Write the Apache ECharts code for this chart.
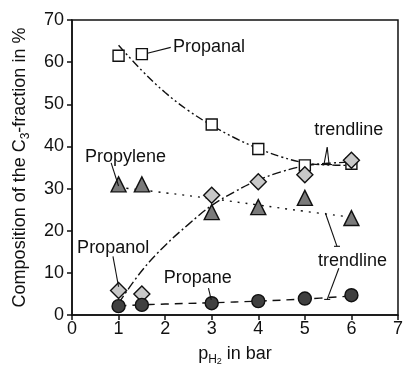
<!DOCTYPE html>
<html><head><meta charset="utf-8">
<script src="https://cdn.jsdelivr.net/npm/echarts@6/dist/echarts.min.js"></script>
<style>html,body{margin:0;padding:0;background:#fff}#c{width:406px;height:375px}</style>
</head><body><div id="c"></div>
<script>
// measured points
const xPts = [1, 1.5, 3, 4, 5, 6];
const propanal = [61.5, 61.9, 45.2, 39.4, 35.5, 35.9];
const propylene = [31.0, 31.0, 24.4, 25.6, 27.8, 23.0];
const propanol = [5.8, 5.0, 28.4, 31.6, 33.3, 36.7];
const propane = [2.1, 2.4, 2.8, 3.3, 3.9, 4.7];
// trendlines
const trendX = [1, 1.5, 2, 2.5, 3, 3.5, 4, 4.5, 5, 5.5, 6];
const trendPropanal = [64, 58, 52.8, 48.5, 45, 42, 39.5, 37.5, 36.1, 35.6, 35.5];
const trendPropanol = [2.8, 10.5, 16.5, 21.5, 26, 29.3, 32, 34, 35.4, 36, 36.3];
const trendPropyleneX = [1, 2, 3, 4, 5, 6];
const trendPropylene = [30.3, 29.0, 27.6, 26.1, 24.6, 23.2];
const trendPropaneX = [1, 2, 3, 4, 5, 6];
const trendPropane = [2.2, 2.6, 2.9, 3.3, 3.8, 4.5];
// annotations (data coordinates)
const annoLabels = [
  {text: 'Propanal', x: 2.17, y: 63.6},
  {text: 'trendline', x: 5.2, y: 43.8},
  {text: 'Propylene', x: 0.28, y: 37.6},
  {text: 'Propanol', x: 0.11, y: 16.0},
  {text: 'Propane', x: 1.97, y: 8.8},
  {text: 'trendline', x: 5.28, y: 12.9}
];
const leaders = [
  [[1.62, 62.1], [2.12, 63.5], false],
  [[5.48, 39.8], [5.41, 35.7], true],
  [[5.48, 39.8], [5.52, 35.7], true],
  [[0.84, 36.1], [1.0, 30.6], false],
  [[0.88, 13.9], [1.0, 6.7], false],
  [[2.93, 6.4], [2.99, 3.6], false],
  [[5.44, 24.2], [5.69, 16.3], true],
  [[5.73, 11.1], [5.48, 3.7], true]
];

const FONT = 'Liberation Sans, Arial, sans-serif';
const chart = echarts.init(document.getElementById('c'));
const zip = (xs, ys) => xs.map((x, i) => [x, ys[i]]);
const trend = (xs, ys, dash) => ({
  type: 'line', data: zip(xs, ys), smooth: 0.4, symbol: 'none', z: 2,
  lineStyle: {color: '#111', width: 1.4, type: dash}, silent: true
});
const pts = (ys, symbol, size, color) => ({
  type: 'scatter', data: zip(xPts, ys), symbol: symbol, symbolSize: size, z: 5,
  itemStyle: {color: color, borderColor: '#111', borderWidth: 1.4, opacity: 1}
});
chart.setOption({
  animation: false,
  grid: {left: 72, right: 5, top: 20, bottom: 60, show: true, borderColor: '#111', borderWidth: 1.5},
  xAxis: {
    type: 'value', min: 0, max: 7, interval: 1,
    axisLine: {lineStyle: {color: '#111', width: 1.5}},
    axisTick: {show: true, length: 5, lineStyle: {color: '#111', width: 1.5}},
    axisLabel: {color: '#111', fontSize: 18, fontFamily: FONT, margin: 5},
    splitLine: {show: false},
    name: '{a|p}{s|H}{t|2}{a| in bar}', nameLocation: 'middle', nameGap: 27,
    nameTextStyle: {
      rich: {
        a: {fontSize: 18, fontFamily: FONT, color: '#111', lineHeight: 24},
        s: {fontSize: 12, fontFamily: FONT, color: '#111', lineHeight: 12, verticalAlign: 'bottom'},
        t: {fontSize: 9, fontFamily: FONT, color: '#111', lineHeight: 9, verticalAlign: 'bottom'}
      }
    }
  },
  yAxis: {
    type: 'value', min: 0, max: 70, interval: 10,
    axisLine: {lineStyle: {color: '#111', width: 1.5}},
    axisTick: {show: true, length: 5, lineStyle: {color: '#111', width: 1.5}},
    axisLabel: {color: '#111', fontSize: 18, fontFamily: FONT, margin: 8},
    splitLine: {show: false},
    name: '{a|Composition of the C}{s|3}{a|-fraction in %}', nameLocation: 'middle', nameRotate: 90, nameGap: 40,
    nameTextStyle: {
      rich: {
        a: {fontSize: 18, fontFamily: FONT, color: '#111', lineHeight: 24},
        s: {fontSize: 12, fontFamily: FONT, color: '#111', lineHeight: 12, verticalAlign: 'bottom'}
      }
    }
  },
  series: [
    trend(trendX, trendPropanal, [8, 3, 2, 3, 2, 3]),
    trend(trendX, trendPropanol, [9, 3, 2, 3]),
    trend(trendPropyleneX, trendPropylene, [2, 6]),
    trend(trendPropaneX, trendPropane, [8, 6]),
    pts(propylene, 'triangle', 15, '#7a7a7a'),
    pts(propanal, 'rect', 11, '#ffffff'),
    pts(propanol, 'diamond', 16, '#c8c8c8'),
    pts(propane, 'circle', 13, '#404040')
  ]
});

function drawAnno() {
  const els = [];
  annoLabels.forEach(a => {
    const p = chart.convertToPixel({gridIndex: 0}, [a.x, a.y]);
    els.push({type: 'text', x: p[0], y: p[1], z: 10,
      style: {text: a.text, font: '18px ' + FONT, fill: '#111', verticalAlign: 'middle', align: 'left'}});
  });
  leaders.forEach(l => {
    const p1 = chart.convertToPixel({gridIndex: 0}, l[0]);
    const p2 = chart.convertToPixel({gridIndex: 0}, l[1]);
    els.push({type: 'line', z: 10, shape: {x1: p1[0], y1: p1[1], x2: p2[0], y2: p2[1]},
      style: {stroke: '#111', lineWidth: 1.1}});
    if (l[2]) {
      els.push({type: 'line', z: 10, shape: {x1: p2[0] - 3, y1: p2[1], x2: p2[0] + 3, y2: p2[1]},
        style: {stroke: '#111', lineWidth: 1.1}});
    }
  });
  chart.setOption({graphic: {elements: els}});
}
drawAnno();
</script>
</body></html>
